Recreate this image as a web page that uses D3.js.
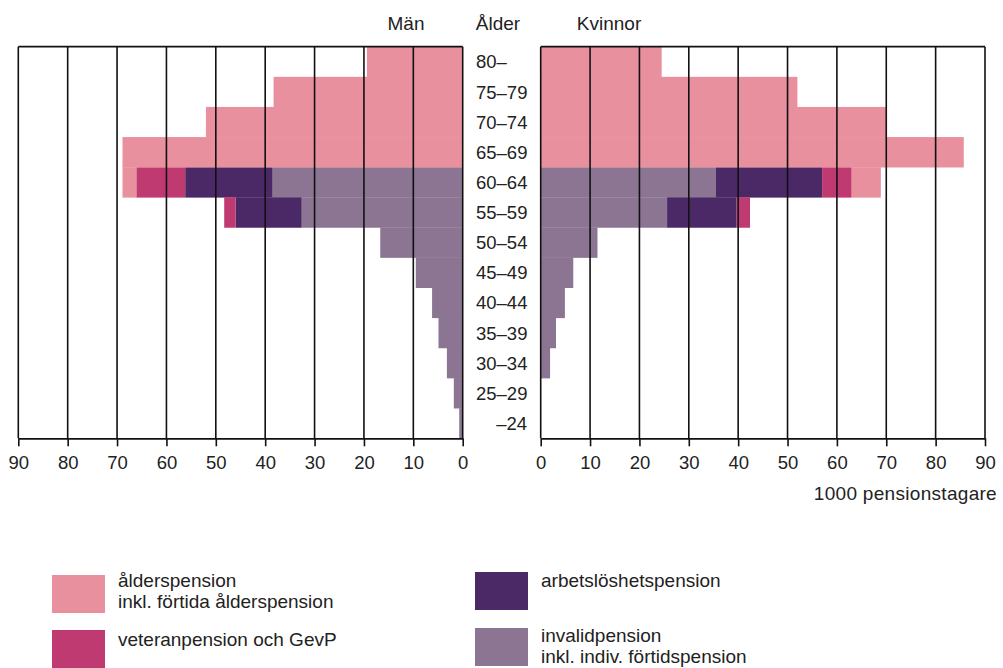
<!DOCTYPE html>
<html>
<head>
<meta charset="utf-8">
<script src="https://cdn.jsdelivr.net/npm/d3@7/dist/d3.min.js"></script>
<style>
  html, body { margin: 0; padding: 0; background: #fff; }
  svg text { font-family: "Liberation Sans", Arial, Helvetica, sans-serif; fill: #222; }
</style>
</head>
<body>
<svg id="chart" width="1003" height="668"></svg>
<script>
// ---- Data (1000 pensionstagare) ----
const ages = ["80–","75–79","70–74","65–69","60–64","55–59","50–54","45–49","40–44","35–39","30–34","25–29","–24"];
const seriesKeys = ["invalid","arbets","veteran","alder"];

const menInvalid  = [0,0,0,0,38.5,32.6,16.7,9.5,6.2,4.9,3.2,1.8,0.7];
const menArbets   = [0,0,0,0,17.7,13.4,0,0,0,0,0,0,0];
const menVeteran  = [0,0,0,0,9.9,2.3,0,0,0,0,0,0,0];
const menAlder    = [19.4,38.3,52.0,68.9,2.8,0,0,0,0,0,0,0,0];

const womenInvalid = [0,0,0,0,35.5,25.6,11.5,6.6,4.9,3.1,1.9,0,0];
const womenArbets  = [0,0,0,0,21.5,14.1,0,0,0,0,0,0,0];
const womenVeteran = [0,0,0,0,6.0,2.7,0,0,0,0,0,0,0];
const womenAlder   = [24.5,52.0,70.1,85.7,5.9,0,0,0,0,0,0,0,0];

const tickValues = [0,10,20,30,40,50,60,70,80,90];

const legendLabels = {
  alder: ["ålderspension", "inkl. förtida ålderspension"],
  veteran: ["veteranpension och GevP"],
  arbets: ["arbetslöshetspension"],
  invalid: ["invalidpension", "inkl. indiv. förtidspension"]
};

// ---- Styles ----
const colors = { alder: "#e8909e", veteran: "#c03a72", arbets: "#4b2866", invalid: "#8b7592" };

const svg = d3.select("#chart");

const yTop = 46.7, yBottom = 438.3;
const xL = d3.scaleLinear().domain([0, 90]).range([462.7, 18.3]);
const xR = d3.scaleLinear().domain([0, 90]).range([540.7, 985]);
const y = d3.scaleBand().domain(ages).range([yTop, yBottom]).padding(0);

function buildRows(inv, arb, vet, ald) {
  return ages.map((a, i) => ({ age: a, invalid: inv[i], arbets: arb[i], veteran: vet[i], alder: ald[i] }));
}
const menRows = buildRows(menInvalid, menArbets, menVeteran, menAlder);
const womenRows = buildRows(womenInvalid, womenArbets, womenVeteran, womenAlder);

const stack = d3.stack().keys(seriesKeys);

function drawPanel(rows, x, left) {
  const g = svg.append("g");
  const layers = stack(rows);
  g.selectAll("g.layer").data(layers).join("g")
    .attr("class", "layer")
    .attr("fill", d => colors[d.key])
    .selectAll("rect").data(d => d.filter(s => s[1] - s[0] > 0)).join("rect")
      .attr("x", d => left ? x(d[1]) : x(d[0]))
      .attr("width", d => Math.abs(x(d[1]) - x(d[0])))
      .attr("y", d => y(d.data.age))
      .attr("height", y.bandwidth() + 0.3);

  // vertical grid lines
  g.selectAll("line.grid").data(tickValues).join("line")
    .attr("class", "grid")
    .attr("x1", d => x(d)).attr("x2", d => x(d))
    .attr("y1", yTop).attr("y2", yBottom)
    .attr("stroke", "#111").attr("stroke-width", 1.6);

  // top frame
  g.append("line")
    .attr("x1", x(0)).attr("x2", x(90))
    .attr("y1", yTop).attr("y2", yTop)
    .attr("stroke", "#111").attr("stroke-width", 1.8);

  // bottom axis
  const axis = d3.axisBottom(x).tickValues(tickValues).tickSize(8).tickSizeOuter(0).tickPadding(10)
    .tickFormat(d3.format("d"));
  const ag = g.append("g").attr("transform", `translate(0,${yBottom})`).call(axis);
  ag.select(".domain").attr("stroke", "#111").attr("stroke-width", 1.8);
  ag.selectAll(".tick line").attr("stroke", "#111").attr("stroke-width", 1.6);
  ag.selectAll(".tick text").style("font-size", "18.5px").attr("fill", "#222")
    .style("font-family", "'Liberation Sans', Arial, sans-serif");
}

drawPanel(menRows, xL, true);
drawPanel(womenRows, xR, false);

// age labels
svg.append("g").selectAll("text").data(ages).join("text")
  .attr("x", d => d.startsWith("–") ? 527 : 476)
  .attr("text-anchor", d => d.startsWith("–") ? "end" : "start")
  .attr("y", d => y(d) + y.bandwidth() / 2)
  .attr("dy", "0.36em")
  .style("font-size", "18.5px")
  .text(d => d);

// headers
const headers = [["Män", 406], ["Ålder", 498], ["Kvinnor", 609]];
svg.append("g").selectAll("text").data(headers).join("text")
  .attr("x", d => d[1]).attr("y", 30)
  .attr("text-anchor", "middle")
  .style("font-size", "19px")
  .text(d => d[0]);

// unit label
svg.append("text")
  .attr("x", 997).attr("y", 500)
  .attr("text-anchor", "end")
  .style("font-size", "19px")
  .style("letter-spacing", "0.3px")
  .text("1000 pensionstagare");

// legend
const legendItems = [
  { key: "alder", x: 52, y: 575, ty: 580 },
  { key: "veteran", x: 52, y: 630, ty: 639 },
  { key: "arbets", x: 475, y: 572, ty: 580 },
  { key: "invalid", x: 475, y: 628, ty: 635 }
];
const lg = svg.append("g");
legendItems.forEach(it => {
  lg.append("rect")
    .attr("x", it.x).attr("y", it.y)
    .attr("width", 53).attr("height", 38)
    .attr("fill", colors[it.key]);
  legendLabels[it.key].forEach((t, i) => {
    lg.append("text")
      .attr("x", it.x + 66).attr("y", it.ty + i * 21)
      .attr("dy", "0.36em")
      .style("font-size", "19px")
      .text(t);
  });
});
</script>
</body>
</html>
